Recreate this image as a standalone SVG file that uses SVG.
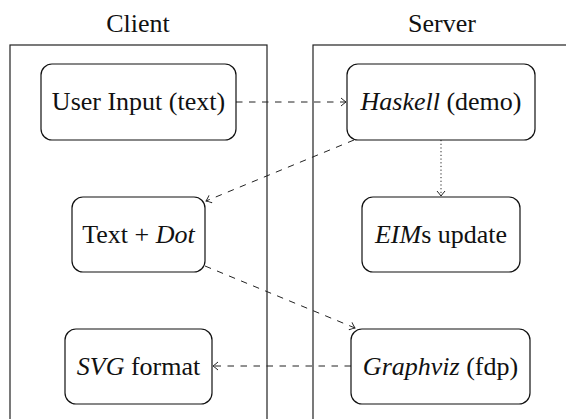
<svg xmlns="http://www.w3.org/2000/svg" width="566" height="419" viewBox="0 0 566 419">
<style>
.lbl{font-family:"Liberation Serif","Times New Roman",serif;font-size:26px;fill:#111;text-anchor:middle}
.it{font-style:italic}
.box{fill:none;stroke:#222;stroke-width:1.2}
.node{fill:#fff;stroke:#111;stroke-width:1.2}
.dash{fill:none;stroke:#222;stroke-width:1;stroke-dasharray:6.5 6.5}
.dot{fill:none;stroke:#222;stroke-width:1;stroke-dasharray:1.2 2.5}
</style>
<defs>
<marker id="to" viewBox="-6 -5 8 10" markerWidth="8" markerHeight="10" refX="0" refY="0" orient="auto" markerUnits="userSpaceOnUse">
<path d="M -5 -4 Q -1.5 -1 0 0 Q -1.5 1 -5 4" fill="none" stroke="#222" stroke-width="1"/>
</marker>
</defs>
<rect width="566" height="419" fill="#fff"/>
<g id="client-lane">
<rect class="box" x="10" y="45" width="257" height="400"/>
<text class="lbl" x="138" y="32">Client</text>
</g>
<g id="server-lane">
<rect class="box" x="313" y="45" width="300" height="400"/>
<text class="lbl" x="442" y="32">Server</text>
</g>
<g id="connectors">
<line class="dash" x1="236" y1="102" x2="346" y2="102" marker-end="url(#to)"/>
<line class="dash" x1="354" y1="140" x2="206" y2="201" marker-end="url(#to)"/>
<line class="dot" x1="441" y1="140" x2="441" y2="196" marker-end="url(#to)"/>
<line class="dash" x1="205" y1="266" x2="355" y2="328" marker-end="url(#to)"/>
<line class="dash" x1="351" y1="366" x2="213" y2="366" marker-end="url(#to)"/>
</g>
<g id="user-input">
<rect class="node" x="41" y="64" width="195" height="76" rx="11"/>
<text class="lbl" x="138.5" y="110">User Input (text)</text>
</g>
<g id="haskell">
<rect class="node" x="347" y="64" width="188" height="76" rx="11"/>
<text class="lbl" x="441" y="110"><tspan class="it">Haskell</tspan> (demo)</text>
</g>
<g id="text-dot">
<rect class="node" x="72" y="197" width="133" height="75" rx="11"/>
<text class="lbl" x="138.5" y="243">Text + <tspan class="it">Dot</tspan></text>
</g>
<g id="eims">
<rect class="node" x="362" y="197" width="158" height="75" rx="11"/>
<text class="lbl" x="441" y="243"><tspan class="it">EIM</tspan>s update</text>
</g>
<g id="svg-format">
<rect class="node" x="65" y="329" width="147" height="75" rx="11"/>
<text class="lbl" x="138.5" y="375"><tspan class="it">SVG</tspan> format</text>
</g>
<g id="graphviz">
<rect class="node" x="351" y="329" width="179" height="75" rx="11"/>
<text class="lbl" x="440.5" y="375"><tspan class="it">Graphviz</tspan> (fdp)</text>
</g>
</svg>
